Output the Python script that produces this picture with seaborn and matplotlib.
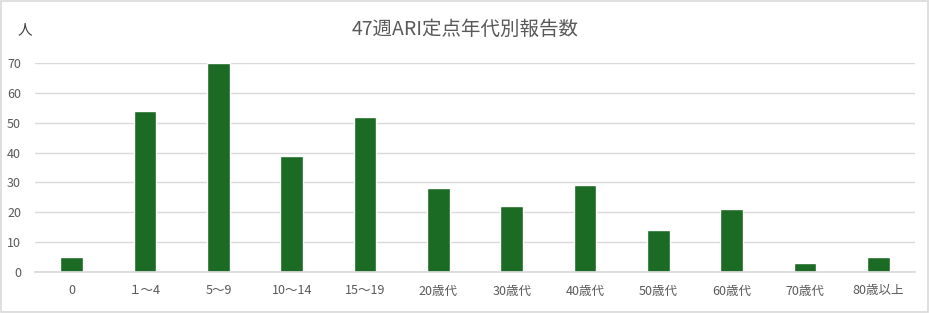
import matplotlib
matplotlib.use("Agg")
import matplotlib.pyplot as plt
import seaborn as sns
import pandas as pd
from matplotlib.patches import Rectangle

categories = ["0", "１～4", "5～9", "10～14", "15～19", "20歳代", "30歳代", "40歳代", "50歳代", "60歳代", "70歳代", "80歳以上"]
values = [5, 54, 70, 39, 52, 28, 22, 29, 14, 21, 3, 5]
yticks = [0, 10, 20, 30, 40, 50, 60, 70]
title = "47週ARI定点年代別報告数"
unit = "人"

sns.set_theme(style="white")
plt.rcParams['font.family'] = ['Noto Sans CJK JP', 'DejaVu Sans']

df = pd.DataFrame({"cat": categories, "val": values})

fig = plt.figure(figsize=(9.3, 3.13), dpi=100)
ax = fig.add_axes([0.0376, 0.131, 0.9464, 0.668])
sns.barplot(data=df, x="cat", y="val", color="#1b6b25", width=0.31, ax=ax, saturation=1)
ax.set_ylim(0, 70)
ax.set_xlim(-0.5, len(categories) - 0.5)
ax.set_yticks(yticks)
ax.yaxis.grid(True, color="#d9d9d9", linewidth=1)
ax.set_axisbelow(True)
for s in ["top", "right", "left"]:
    ax.spines[s].set_visible(False)
ax.spines["bottom"].set_color("#d9d9d9")
ax.tick_params(axis="y", length=0, labelsize=9, colors="#595959", pad=10)
ax.tick_params(axis="x", length=0, labelsize=9, colors="#595959", pad=9)
ax.set_xlabel("")
ax.set_ylabel("")
fig.text(0.5, 0.905, title, ha="center", va="center", fontsize=14, color="#595959")
fig.text(0.027, 0.905, unit, ha="center", va="center", fontsize=10.5, color="#404040")
fig.patches.append(Rectangle((0.001, 0.002), 0.997, 0.994, transform=fig.transFigure,
                             fill=False, edgecolor="#d9d9d9", linewidth=1.2))
fig.savefig("out.png", dpi=100)
